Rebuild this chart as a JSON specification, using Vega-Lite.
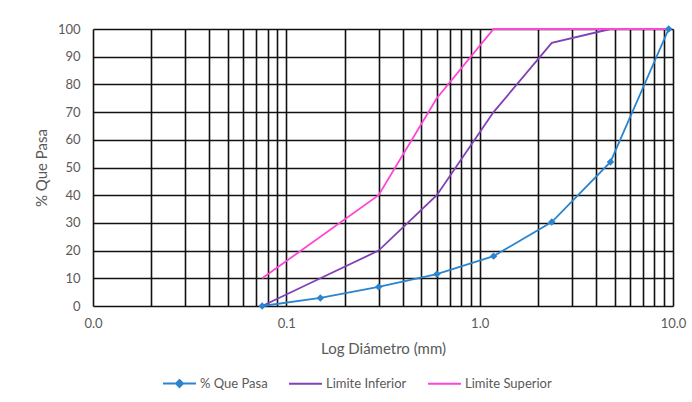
{
  "$schema": "https://vega.github.io/schema/vega-lite/v6.json",
  "autosize": "none",
  "width": 580,
  "height": 277,
  "padding": {"left": 93, "top": 29, "right": 19, "bottom": 96},
  "background": "white",
  "config": {
    "font": "Lato",
    "view": {"stroke": null},
    "axis": {"labelColor": "#595959", "titleColor": "#595959", "labelFontSize": 13, "titleFontSize": 15, "titleFontWeight": "normal", "gridColor": "#111111", "gridWidth": 1.6, "gridOpacity": 1, "domain": false, "ticks": false}
  },
  "data": {"values": [
    {"d": 0.075, "p": 0, "serie": "% Que Pasa"},
    {"d": 0.15, "p": 2.9, "serie": "% Que Pasa"},
    {"d": 0.3, "p": 6.9, "serie": "% Que Pasa"},
    {"d": 0.6, "p": 11.5, "serie": "% Que Pasa"},
    {"d": 1.18, "p": 18, "serie": "% Que Pasa"},
    {"d": 2.36, "p": 30.3, "serie": "% Que Pasa"},
    {"d": 4.75, "p": 52, "serie": "% Que Pasa"},
    {"d": 9.5, "p": 100, "serie": "% Que Pasa"},
    {"d": 0.075, "p": 0, "serie": "Limite Inferior"},
    {"d": 0.15, "p": 10, "serie": "Limite Inferior"},
    {"d": 0.3, "p": 20, "serie": "Limite Inferior"},
    {"d": 0.6, "p": 40, "serie": "Limite Inferior"},
    {"d": 1.18, "p": 70, "serie": "Limite Inferior"},
    {"d": 2.36, "p": 95, "serie": "Limite Inferior"},
    {"d": 4.75, "p": 100, "serie": "Limite Inferior"},
    {"d": 9.5, "p": 100, "serie": "Limite Inferior"},
    {"d": 0.075, "p": 10, "serie": "Limite Superior"},
    {"d": 0.3, "p": 40, "serie": "Limite Superior"},
    {"d": 0.6, "p": 75, "serie": "Limite Superior"},
    {"d": 1.18, "p": 100, "serie": "Limite Superior"},
    {"d": 2.36, "p": 100, "serie": "Limite Superior"},
    {"d": 4.75, "p": 100, "serie": "Limite Superior"},
    {"d": 9.5, "p": 100, "serie": "Limite Superior"}
  ]},
  "encoding": {
    "x": {"field": "d", "type": "quantitative",
      "scale": {"type": "log", "domain": [0.01, 10], "nice": false},
      "axis": {"title": "Log Diámetro (mm)", "values": [0.01,0.02,0.03,0.04,0.05,0.06,0.07,0.08,0.09,0.1,0.2,0.3,0.4,0.5,0.6,0.7,0.8,0.9,1,2,3,4,5,6,7,8,9,10],
        "labelExpr": "indexof([0.01,0.1,1,10], datum.value) >= 0 ? format(datum.value, '.1f') : ''",
        "labelOverlap": false, "labelFlush": false, "labelPadding": 11, "titlePadding": 11}},
    "y": {"field": "p", "type": "quantitative",
      "scale": {"domain": [0, 100], "nice": false},
      "axis": {"title": "% Que Pasa", "values": [0,10,20,30,40,50,60,70,80,90,100], "labelPadding": 13, "titlePadding": 8}},
    "color": {"field": "serie", "type": "nominal",
      "scale": {"domain": ["% Que Pasa", "Limite Inferior", "Limite Superior"], "range": ["#2a84cf", "#8040b8", "#ff44d6"]},
      "legend": {"title": null, "orient": "none", "direction": "horizontal", "legendX": 69, "legendY": 337, "padding": 0,
        "labelFontSize": 13, "labelColor": "#595959", "labelOffset": 3, "columnPadding": 17, "symbolSize": 1089, "symbolStrokeWidth": 2,
        "encode": {"symbols": {"update": {
          "shape": {"signal": "datum.value === '% Que Pasa' ? 'M-1,0H1M0,-0.21L0.21,0L0,0.21L-0.21,0Z' : 'M-1,0H1'"},
          "fill": {"signal": "datum.value === '% Que Pasa' ? '#2a84cf' : 'transparent'"}
        }}}}}
  },
  "layer": [
    {"transform": [{"filter": "datum.serie === 'Limite Inferior'"}], "mark": {"type": "line", "strokeWidth": 1.8}},
    {"transform": [{"filter": "datum.serie === 'Limite Superior'"}], "mark": {"type": "line", "strokeWidth": 1.8}},
    {"transform": [{"filter": "datum.serie === '% Que Pasa'"}], "mark": {"type": "line", "strokeWidth": 1.8}},
    {"transform": [{"filter": "datum.serie === '% Que Pasa'"}], "mark": {"type": "point", "shape": "diamond", "filled": true, "size": 55, "opacity": 1}}
  ]
}
